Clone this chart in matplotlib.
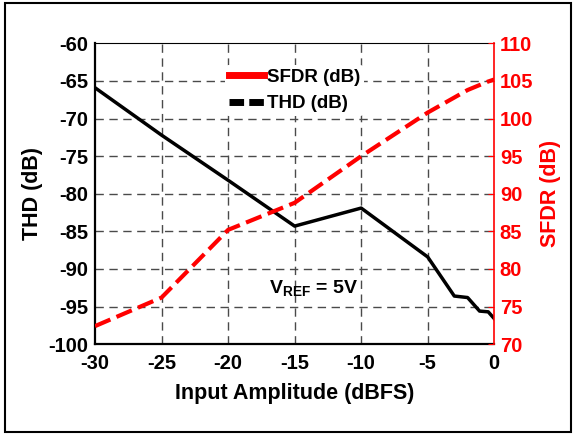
import matplotlib
matplotlib.use("Agg")
import matplotlib.pyplot as plt
from matplotlib.lines import Line2D
from matplotlib.patches import Rectangle

plt.rcParams['font.family'] = ['Liberation Sans', 'DejaVu Sans']
plt.rcParams['font.weight'] = 'bold'
plt.rcParams['axes.unicode_minus'] = False
plt.rcParams['mathtext.fontset'] = 'custom'
plt.rcParams['mathtext.bf'] = 'Liberation Sans:bold'
plt.rcParams['mathtext.rm'] = 'Liberation Sans:bold'

# THD vs input amplitude (left axis)
thdX = [-30, -25, -20, -15, -10, -5, -3, -2, -1.1, -0.45, 0]
thdY = [-65.9, -72.2, -78.2, -84.3, -81.9, -88.4, -93.6, -93.8, -95.6, -95.7, -96.6]

# SFDR vs input amplitude (right axis)
sfdrX = [-30, -25, -22.5, -20, -15, -10, -5, -2, -0.5, 0]
sfdrY = [72.4, 76.2, 80.7, 85.2, 88.8, 95.0, 100.8, 103.8, 104.9, 105.2]

xTicks = [-30, -25, -20, -15, -10, -5, 0]
thdTicks = [-100, -95, -90, -85, -80, -75, -70, -65, -60]
sfdrTicks = [70, 75, 80, 85, 90, 95, 100, 105, 110]

fig = plt.figure(figsize=(5.76, 4.34), dpi=100)
ax = fig.add_axes([0.165, 0.207, 0.693, 0.693])
ax2 = ax.twinx()

ax.set_xlim(-30, 0)
ax.set_ylim(-100, -60)
ax2.set_ylim(70, 110)
ax.set_xticks(xTicks)
ax.set_yticks(thdTicks)
ax2.set_yticks(sfdrTicks)
ax.set_xticklabels([str(v) for v in xTicks], fontsize=14.5, fontweight='bold')
ax.set_yticklabels([str(v) for v in thdTicks], fontsize=14.5, fontweight='bold')
ax2.set_yticklabels([str(v) for v in sfdrTicks], fontsize=14.5, fontweight='bold')

for v in xTicks[1:-1]:
    ax.axvline(v, color='#4a4a4a', lw=1.0, ls=(0, (6, 4)), zorder=1)
for v in thdTicks[1:-1]:
    ax.axhline(v, color='#4a4a4a', lw=1.0, ls=(0, (6, 4)), zorder=1)

ax.plot(thdX, thdY, color='black', lw=2.5, solid_joinstyle='round', zorder=3)
ax2.plot(sfdrX, sfdrY, color='#ff0000', lw=3.0, ls=(0, (4, 1.6)), zorder=3)

ax.tick_params(axis='x', length=0, pad=7)
ax.tick_params(axis='y', length=0, pad=5)
ax2.tick_params(axis='y', colors='#ff0000', direction='in', length=4, pad=4)

ax.set_xlabel('Input Amplitude (dBFS)', fontsize=15.5, fontweight='bold', labelpad=7)
ax.set_ylabel('THD (dB)', fontsize=15.5, fontweight='bold', labelpad=4)
ax2.set_ylabel('SFDR (dB)', fontsize=15.5, fontweight='bold', color='#ff0000', labelpad=5)

ax.spines['left'].set_linewidth(1.6)
ax.spines['bottom'].set_linewidth(1.6)
ax.spines['top'].set_linewidth(0.8)
ax2.spines['top'].set_visible(False)
ax2.spines['left'].set_visible(False)
ax2.spines['bottom'].set_visible(False)
ax2.spines['right'].set_color('#ff0000')
ax2.spines['right'].set_linewidth(1.2)
ax.spines['right'].set_visible(False)

ax.text(-13.6, -92.6, r'V$_{\mathbf{REF}}$ = 5V', fontsize=14, fontweight='bold',
        ha='center', va='center', zorder=4)

handles = [
    Line2D([], [], color='#ff0000', lw=5),
    Line2D([], [], color='black', lw=5, ls=(0, (2.1, 0.75))),
]
leg = ax2.legend(handles, ['SFDR (dB)', 'THD (dB)'], loc='upper center',
                 bbox_to_anchor=(0.5, 0.96), frameon=True, fontsize=13.5,
                 handlelength=1.85, handletextpad=0.15, borderpad=0.2,
                 labelspacing=0.5)
leg.get_frame().set_edgecolor('none')
leg.get_frame().set_facecolor('white')
leg.get_frame().set_alpha(1)
for t in leg.get_texts():
    t.set_fontweight('bold')

fig.patches.append(Rectangle((0.009, 0.004), 0.982, 0.99, transform=fig.transFigure,
                             fill=False, edgecolor='black', lw=1.5))

fig.savefig('out.png', dpi=100)
